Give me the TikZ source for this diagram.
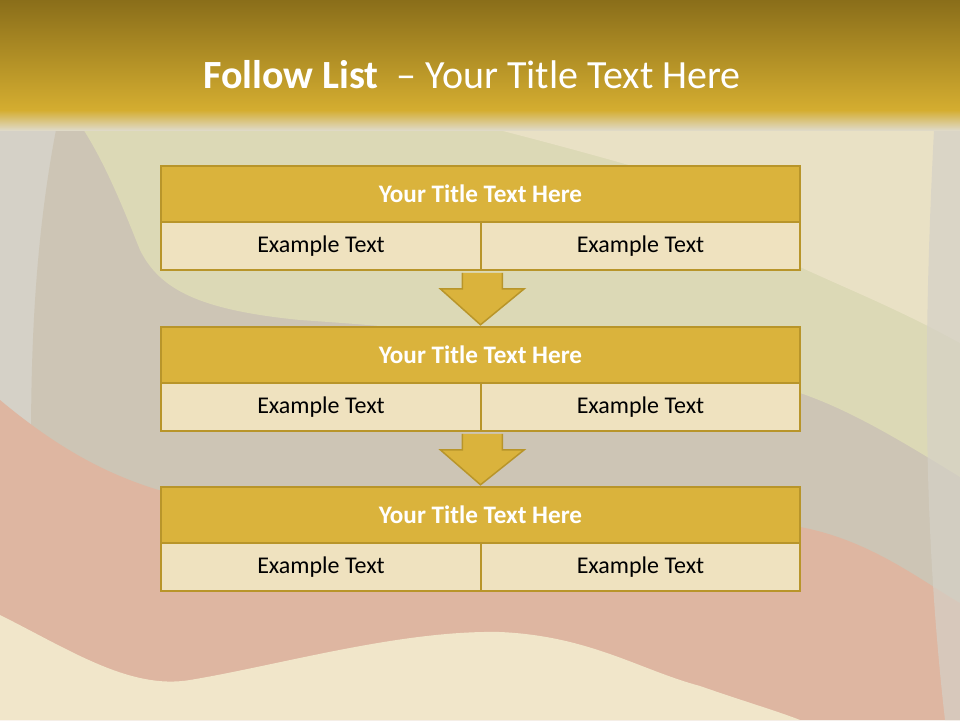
\documentclass[tikz,border=0pt]{standalone}
\usepackage{fontspec}
\setmainfont{Carlito}
\usetikzlibrary{calc}
\definecolor{gold}{HTML}{DAB33C}
\definecolor{golddark}{HTML}{B8952A}
\definecolor{paleg}{HTML}{EFE2BF}
\definecolor{bgbase}{HTML}{D5D1C7}
\definecolor{bgcream}{HTML}{E9E1C5}
\definecolor{bggreen}{HTML}{DCD9B6}
\definecolor{bgdark}{HTML}{CDC5B5}
\definecolor{bgred}{HTML}{DEB6A1}
\definecolor{bgbottom}{HTML}{F1E6CA}
\definecolor{hdtop}{HTML}{8A6E1A}
\definecolor{hdbot}{HTML}{D4AD30}
\begin{document}
\begin{tikzpicture}[x=1pt,y=-1pt,
  titlebox/.style={draw=golddark,line width=2.5pt,fill=gold,minimum width=639pt,minimum height=56pt,inner sep=0pt,text=white,font=\fontsize{25.2}{28}\selectfont\bfseries},
  subbox/.style={draw=golddark,line width=2.5pt,fill=paleg,minimum height=48pt,inner sep=0pt,text=black,font=\fontsize{24}{28}\selectfont},
  downarrow/.style={draw=golddark,line width=1.5pt,fill=gold,line join=miter}]
\useasboundingbox (0,0) rectangle (960,720);
% background
\fill[bgbase] (0,0) rectangle (960,720);
\fill[bgdark] (60,110) -- (960,110) -- (960,720) -- (40,720) .. controls (30,500) and (20,300) .. (60,110) -- cycle;
\fill[bggreen] (70,110) -- (960,110) -- (960,477) .. controls (900,440) and (850,410) .. (800,393) .. controls (650,350) and (450,330) .. (300,320) .. controls (200,310) and (160,290) .. (140,250) .. controls (120,200) and (100,150) .. (70,110) -- cycle;
\fill[bgcream] (420,110) -- (960,110) -- (960,343) .. controls (900,310) and (850,290) .. (800,267) .. controls (750,230) and (720,195) .. (680,180) .. controls (580,150) and (480,125) .. (420,110) -- cycle;
\fill[bgred] (0,400) .. controls (60,450) and (120,485) .. (200,500) .. controls (400,520) and (650,510) .. (800,527) .. controls (870,540) and (920,580) .. (960,603) -- (960,720) -- (0,720) -- cycle;
\fill[bgbottom] (0,615) .. controls (70,650) and (130,690) .. (190,680) .. controls (280,665) and (400,630) .. (500,632) .. controls (590,636) and (640,670) .. (700,686) .. controls (740,700) and (780,712) .. (800,720) -- (0,720) -- cycle;
\fill[bgbase,opacity=0.7] (935,110) .. controls (925,300) and (920,500) .. (945,720) -- (960,720) -- (960,110) -- cycle;
% header
\shade[top color=hdtop,bottom color=hdbot] (0,0) rectangle (960,110);
\shade[top color=hdbot,bottom color=bgcream!50!bgbase] (0,110) rectangle (960,130);
\node[anchor=base west,text=white,inner sep=0pt,font=\fontsize{40}{44}\selectfont] (title) at (203,88) {\textbf{Follow List} \ – Your Title Text Here};
% boxes
\node[titlebox] (t1) at (480.5,194) {Your Title Text Here};
\node[subbox,minimum width=320pt] (s1a) at (321,246) {Example Text};
\node[subbox,minimum width=319pt] (s1b) at (640.5,246) {Example Text};
\node[titlebox] (t2) at (480.5,355) {Your Title Text Here};
\node[subbox,minimum width=320pt] (s2a) at (321,407) {Example Text};
\node[subbox,minimum width=319pt] (s2b) at (640.5,407) {Example Text};
\node[titlebox] (t3) at (480.5,515) {Your Title Text Here};
\node[subbox,minimum width=320pt] (s3a) at (321,567) {Example Text};
\node[subbox,minimum width=319pt] (s3b) at (640.5,567) {Example Text};
% arrows between boxes
\draw[downarrow] ($(s1a.south east)+(-20,1.5)$) -- ++(0,16) -- ++(-22,0) -- ($(t2.north)+(0,-1)$) -- ($(s1a.south east)+(42,17.5)$) -- ++(-22,0) -- ($(s1a.south east)+(20,1.5)$);
\draw[downarrow] ($(s2a.south east)+(-20,1.5)$) -- ++(0,16) -- ++(-22,0) -- ($(t3.north)+(0,-1)$) -- ($(s2a.south east)+(42,17.5)$) -- ++(-22,0) -- ($(s2a.south east)+(20,1.5)$);
\end{tikzpicture}
\end{document}
